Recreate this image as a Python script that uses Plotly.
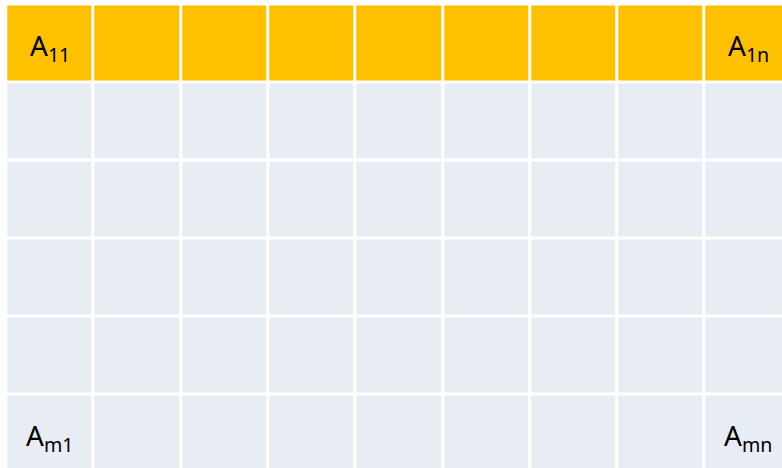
import plotly.graph_objects as go

# ---- data ----
col_index = [0, 1, 2, 3, 4, 5, 6, 7, 8]
row_index = [0, 1, 2, 3, 4, 5]
cell_values = [
    [1, 1, 1, 1, 1, 1, 1, 1, 1],
    [0, 0, 0, 0, 0, 0, 0, 0, 0],
    [0, 0, 0, 0, 0, 0, 0, 0, 0],
    [0, 0, 0, 0, 0, 0, 0, 0, 0],
    [0, 0, 0, 0, 0, 0, 0, 0, 0],
    [0, 0, 0, 0, 0, 0, 0, 0, 0],
]
label_texts = ["A<sub>11</sub>", "A<sub>1n</sub>", "A<sub>m1</sub>", "A<sub>mn</sub>"]
label_cols = [0, 8, 0, 8]
label_rows = [0, 0, 5, 5]

ORANGE = "#FFC000"
GREY = "#E8ECF3"

fig = go.Figure()
fig.add_trace(go.Heatmap(
    x=col_index, y=row_index, z=cell_values,
    colorscale=[[0, GREY], [1, ORANGE]],
    zmin=0, zmax=1, showscale=False,
    xgap=3, ygap=3, hoverinfo="skip",
))

for t, c, r in zip(label_texts, label_cols, label_rows):
    fig.add_annotation(
        x=c, y=r, text=t, showarrow=False,
        font=dict(family="Noto Sans", size=28, color="#000000"),
        xanchor="center", yanchor="middle", yshift=-3,
    )

W, H = 782, 468
col_px = 87.3
row_px = 78.0
x0 = -49.85 / col_px
y0 = -43.5 / row_px
fig.update_layout(
    width=W, height=H,
    margin=dict(l=0, r=0, t=0, b=0),
    paper_bgcolor="white", plot_bgcolor="white",
    xaxis=dict(range=[x0, x0 + W / col_px], visible=False, fixedrange=True),
    yaxis=dict(range=[y0 + H / row_px, y0], visible=False, fixedrange=True),
    showlegend=False,
)
fig.write_html(
    "out.html",
    config={"displayModeBar": False},
    post_script="document.body.style.margin='0px';document.body.style.overflow='hidden';",
)
